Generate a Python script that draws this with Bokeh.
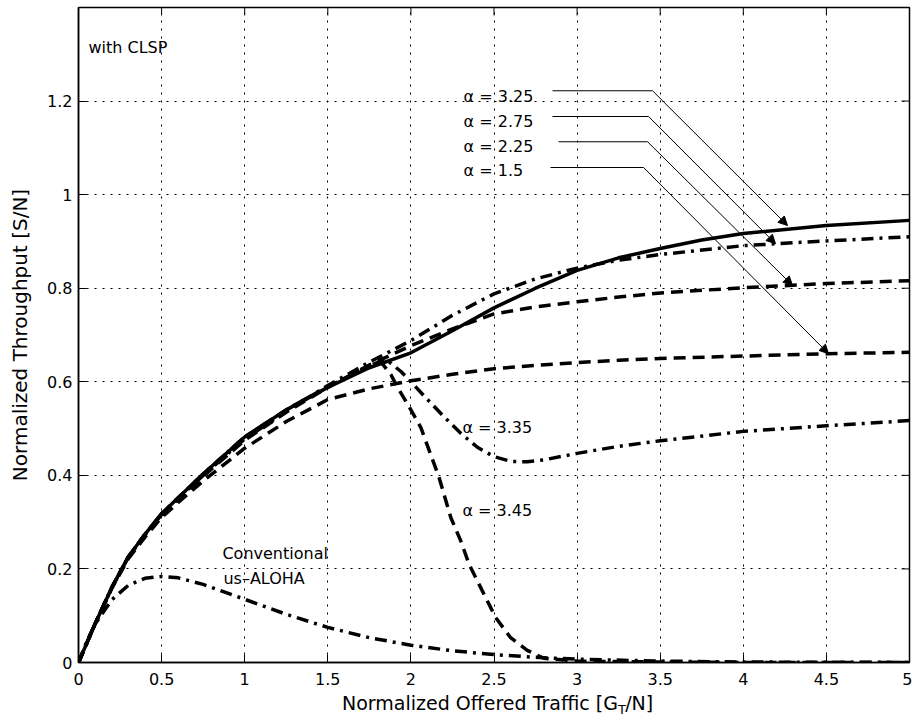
from bokeh.plotting import figure
from bokeh.models import Range1d, FixedTicker, Label, Arrow, NormalHead
from bokeh.layouts import column
from bokeh.core.properties import value
from bokeh.embed import file_html
from bokeh.resources import INLINE

# ---------------- data ----------------
x_ticks = [0, 0.5, 1, 1.5, 2, 2.5, 3, 3.5, 4, 4.5, 5]
x_tick_labels = ["0", "0.5", "1", "1.5", "2", "2.5", "3", "3.5", "4", "4.5", "5"]
y_ticks = [0, 0.2, 0.4, 0.6, 0.8, 1.0, 1.2]
y_tick_labels = ["0", "0.2", "0.4", "0.6", "0.8", "1", "1.2"]
y_grid = [0, 0.2, 0.4, 0.6, 0.8, 1.0, 1.2, 1.4]
x_max, y_max = 5, 1.4

# alpha = 3.25 (solid)
x_a325 = [0, 0.1, 0.2, 0.3, 0.4, 0.5, 0.6, 0.75, 1.0, 1.25, 1.5, 1.75, 2.0, 2.25, 2.5, 2.75, 3.0, 3.25, 3.5, 3.75, 4.0, 4.5, 5.0]
y_a325 = [0, 0.083, 0.16, 0.226, 0.274, 0.318, 0.352, 0.403, 0.482, 0.540, 0.588, 0.630, 0.662, 0.709, 0.758, 0.800, 0.838, 0.865, 0.885, 0.903, 0.917, 0.934, 0.945]

x_common = [0, 0.1, 0.2, 0.3, 0.4, 0.5, 0.6, 0.75, 1.0, 1.25, 1.5, 1.75, 2.0, 2.25, 2.5, 2.75, 3.0, 3.25, 3.5, 4.0, 4.5, 5.0]
# alpha = 2.75 (dash-dot)
y_a275 = [0, 0.083, 0.16, 0.225, 0.273, 0.316, 0.350, 0.400, 0.478, 0.537, 0.592, 0.642, 0.688, 0.742, 0.788, 0.820, 0.843, 0.860, 0.872, 0.891, 0.901, 0.910]
# alpha = 2.25 (dashed)
y_a225 = [0, 0.083, 0.16, 0.225, 0.272, 0.315, 0.348, 0.398, 0.475, 0.535, 0.588, 0.636, 0.677, 0.713, 0.745, 0.760, 0.771, 0.781, 0.790, 0.801, 0.810, 0.816]
# alpha = 1.5 (dashed)
y_a150 = [0, 0.082, 0.158, 0.222, 0.268, 0.310, 0.342, 0.388, 0.458, 0.515, 0.562, 0.585, 0.602, 0.616, 0.628, 0.635, 0.641, 0.646, 0.650, 0.655, 0.660, 0.663]

# alpha = 3.35 (dash-dot)
x_a335 = [0, 0.1, 0.2, 0.3, 0.4, 0.5, 0.6, 0.75, 1.0, 1.25, 1.5, 1.75, 1.85, 1.94, 2.0, 2.1, 2.2, 2.3, 2.4, 2.5, 2.6, 2.7, 2.8, 3.0, 3.25, 3.5, 4.0, 4.5, 5.0]
y_a335 = [0, 0.083, 0.16, 0.226, 0.274, 0.318, 0.352, 0.403, 0.482, 0.540, 0.590, 0.634, 0.648, 0.622, 0.600, 0.562, 0.525, 0.490, 0.460, 0.440, 0.430, 0.429, 0.433, 0.447, 0.462, 0.474, 0.494, 0.506, 0.517]

# alpha = 3.45 (dashed)
x_a345 = [0, 0.1, 0.2, 0.3, 0.4, 0.5, 0.6, 0.75, 1.0, 1.25, 1.5, 1.75, 1.82, 1.88, 1.92, 2.0, 2.06, 2.17, 2.24, 2.3, 2.35, 2.42, 2.51, 2.6, 2.7, 2.8, 3.0, 3.5, 4.0, 5.0]
y_a345 = [0, 0.083, 0.16, 0.226, 0.274, 0.318, 0.352, 0.403, 0.482, 0.540, 0.590, 0.633, 0.642, 0.615, 0.588, 0.540, 0.502, 0.395, 0.310, 0.260, 0.210, 0.160, 0.096, 0.053, 0.026, 0.009, 0.003, 0.001, 0.0, 0.0]

# conventional us-ALOHA (dash-dot)
x_conv = [0, 0.05, 0.1, 0.2, 0.3, 0.4, 0.5, 0.6, 0.75, 1.0, 1.25, 1.5, 1.75, 2.0, 2.25, 2.5, 2.75, 3.0, 3.5, 4.0, 4.5, 5.0]
y_conv = [0, 0.045, 0.082, 0.134, 0.165, 0.180, 0.184, 0.181, 0.167, 0.135, 0.103, 0.075, 0.053, 0.037, 0.025, 0.017, 0.011, 0.007, 0.003, 0.001, 0.0005, 0.0002]

# callout annotations (alpha labels with leader arrows)
ann_labels = ["α = 3.25", "α = 2.75", "α = 2.25", "α = 1.5"]
ann_text_x = [2.317, 2.317, 2.317, 2.317]
ann_text_y = [1.209, 1.156, 1.103, 1.051]
ann_line_x0 = [2.852, 2.852, 2.888, 2.840]
ann_line_x1 = [3.454, 3.430, 3.424, 3.400]
ann_line_y = [1.222, 1.167, 1.113, 1.058]
ann_tip_x = [4.266, 4.194, 4.296, 4.513]
ann_tip_y = [0.934, 0.895, 0.806, 0.660]

FONT = "DejaVu Sans"

# ---------------- main figure ----------------
p = figure(width=912, height=692, x_range=Range1d(0, x_max), y_range=Range1d(0, y_max),
           output_backend="svg", toolbar_location=None,
           min_border_left=78, min_border_right=3, min_border_top=7, min_border_bottom=30)
p.background_fill_color = "white"
p.border_fill_color = "white"
p.outline_line_color = "black"
p.outline_line_width = 1.5

for ax in (p.xaxis[0], p.yaxis[0]):
    ax.major_label_text_font = FONT
    ax.major_label_text_font_size = "16px"
    ax.major_label_text_color = "black"
    ax.major_tick_in = 8
    ax.major_tick_out = 0
    ax.minor_tick_in = 0
    ax.minor_tick_out = 0
    ax.axis_line_color = "black"
    ax.axis_line_width = 1.5
    ax.major_tick_line_color = "black"
    ax.major_tick_line_width = 1

p.xaxis[0].ticker = FixedTicker(ticks=x_ticks)
p.xaxis[0].major_label_overrides = {t: l for t, l in zip(x_ticks, x_tick_labels)}
p.xaxis[0].major_label_standoff = 10
p.yaxis[0].ticker = FixedTicker(ticks=y_ticks)
p.yaxis[0].major_label_overrides = {t: l for t, l in zip(y_ticks, y_tick_labels)}
p.yaxis[0].major_label_standoff = 6
p.yaxis[0].axis_label = "Normalized Throughput [S/N]"
p.yaxis[0].axis_label_text_font = FONT
p.yaxis[0].axis_label_text_font_size = "20px"
p.yaxis[0].axis_label_text_font_style = "normal"
p.yaxis[0].axis_label_text_color = "black"
p.yaxis[0].axis_label_standoff = 12

# inward ticks on top and right edges (box style)
p.ray(x=x_ticks, y=[y_max] * len(x_ticks), length=8, length_units="screen",
      angle=-90, angle_units="deg", line_color="black", line_width=1)
p.ray(x=[x_max] * len(y_ticks), y=y_ticks, length=8, length_units="screen",
      angle=180, angle_units="deg", line_color="black", line_width=1)

p.xgrid.ticker = FixedTicker(ticks=x_ticks)
p.ygrid.ticker = FixedTicker(ticks=y_grid)
for g in (p.xgrid[0], p.ygrid[0]):
    g.grid_line_color = "black"
    g.grid_line_dash = "2 6"
    g.grid_line_width = 1

LW = 3.5
DASH = "12 7"
DASHDOT = "12 6 3 6"
p.line(x_a325, y_a325, line_color="black", line_width=LW, line_join="round")
p.line(x_common, y_a275, line_color="black", line_width=LW, line_dash=DASHDOT)
p.line(x_common, y_a225, line_color="black", line_width=LW, line_dash=DASH)
p.line(x_common, y_a150, line_color="black", line_width=LW, line_dash=DASH)
p.line(x_a335, y_a335, line_color="black", line_width=LW, line_dash=DASHDOT)
p.line(x_a345, y_a345, line_color="black", line_width=LW, line_dash=DASH)
p.line(x_conv, y_conv, line_color="black", line_width=LW, line_dash=DASHDOT)

# callouts
p.segment(x0=ann_line_x0, y0=ann_line_y, x1=ann_line_x1, y1=ann_line_y,
          line_color="black", line_width=1)
for i in range(len(ann_labels)):
    p.add_layout(Arrow(end=NormalHead(size=9, fill_color="black", line_color="black"),
                       x_start=ann_line_x1[i], y_start=ann_line_y[i],
                       x_end=ann_tip_x[i], y_end=ann_tip_y[i],
                       line_color="black", line_width=1))
    p.add_layout(Label(x=ann_text_x[i], y=ann_text_y[i], text=ann_labels[i],
                       text_font=FONT, text_font_size="16px", text_baseline="middle",
                       text_color="black"))

def lab(x, y, t, size="16px", align="left"):
    p.add_layout(Label(x=x, y=y, text=t, text_font=FONT, text_font_size=size,
                       text_baseline="middle", text_align=align, text_color="black"))

lab(2.31, 0.502, "α = 3.35")
lab(2.31, 0.325, "α = 3.45")
lab(0.866, 0.233, "Conventional")
lab(0.872, 0.179, "us–ALOHA")
lab(0.06, 1.314, "with CLSP")

# ---------------- x axis title strip (with subscript T) ----------------
p2 = figure(width=912, height=30, x_range=Range1d(0, 912), y_range=Range1d(0, 30),
            output_backend="svg", toolbar_location=None,
            min_border_left=0, min_border_right=0, min_border_top=0, min_border_bottom=0,
            x_axis_type=None, y_axis_type=None)
p2.outline_line_color = None
p2.xgrid.visible = False
p2.ygrid.visible = False
p2.border_fill_color = "white"
p2.background_fill_color = "white"
join = 592
p2.text(x=[join], y=[20], text=["Normalized Offered Traffic [G"], text_align="right",
        text_baseline="middle", text_font=value(FONT), text_font_size="19px", text_color="black")
p2.text(x=[join], y=[13], text=["T"], text_align="left",
        text_baseline="middle", text_font=value(FONT), text_font_size="13px", text_color="black")
p2.text(x=[join + 8], y=[20], text=["/N]"], text_align="left",
        text_baseline="middle", text_font=value(FONT), text_font_size="19px", text_color="black")

layout = column(p, p2, spacing=0)
open("out.html", "w").write(file_html(layout, INLINE))
